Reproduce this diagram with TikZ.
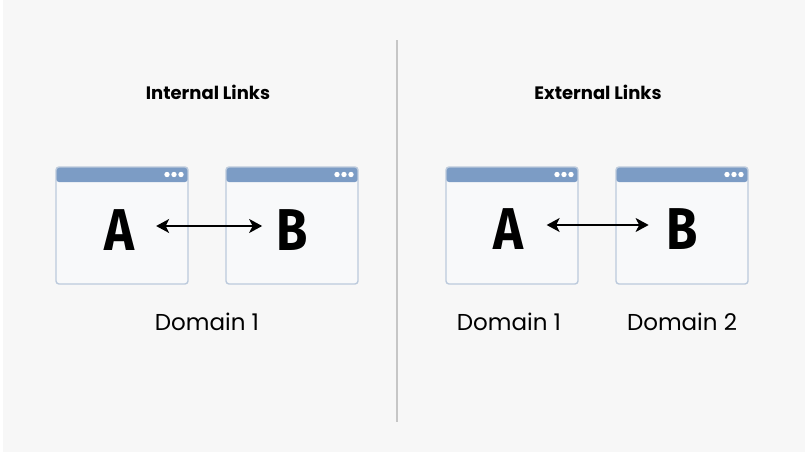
\documentclass[tikz,border=0pt]{standalone}
\usepackage{fontspec}
\setmainfont{Poppins}
\newfontfamily\letterfont[FakeStretch=0.86]{Fira Sans}
\usetikzlibrary{arrows.meta}

\definecolor{bg}{HTML}{F7F7F7}
\definecolor{bar}{HTML}{7C9CC5}
\definecolor{frame}{HTML}{BCCADC}
\definecolor{pane}{HTML}{F8F9FA}
\definecolor{divider}{HTML}{C6C6C6}

\tikzset{
  window/.style={draw=frame, line width=1.4pt, fill=pane, rounded corners=3pt,
    minimum width=132pt, minimum height=117pt, inner sep=0pt,
    path picture={
      \fill[bar] (path picture bounding box.north west) rectangle ([yshift=-15pt]path picture bounding box.north east);
      \foreach \dx in {7,14,21}
        \fill[white] ([xshift=-\dx pt, yshift=-7.5pt]path picture bounding box.north east) circle (2.7pt);
    }},
  letter/.style={font=\letterfont\bfseries\fontsize{59}{59}\selectfont, inner sep=0pt},
  title/.style={font=\bfseries\fontsize{18}{22}\selectfont},
  domainlabel/.style={font=\fontsize{23}{27}\selectfont},
  link/.style={{Stealth[length=13pt,width=14pt,inset=3.5pt]}-{Stealth[length=13pt,width=14pt,inset=3.5pt]},
    line width=1.6pt, black},
}

\begin{document}
\begin{tikzpicture}[x=1pt, y=-1pt]
  \useasboundingbox (0,0) rectangle (807,455);
  \fill[white] (0,0) rectangle (807,455);
  \fill[bg] (3,0) rectangle (805,452);

  % divider
  \coordinate (top) at (397,40);
  \coordinate (bot) at (397,422);
  \draw[divider, line width=1.2pt] (top) -- (bot);

  % internal links
  \node[title] (t1) at (208,92) {Internal Links};
  \node[window] (w1) at (122,225.5) {};
  \node[window] (w2) at (292,225.5) {};
  \node[letter] (a1) at (119,230) {A};
  \node[letter] (b1) at (292,230) {B};
  \node[domainlabel] (d1) at (207,322) {Domain 1};

  % external links
  \node[title] (t2) at (598,92) {External Links};
  \node[window] (w3) at (512,225.5) {};
  \node[window] (w4) at (682,225.5) {};
  \node[letter] (a2) at (508.5,229) {A};
  \node[letter] (b2) at (682.5,229) {B};
  \node[domainlabel] (d2) at (509,322) {Domain 1};
  \node[domainlabel] (d3) at (682,322) {Domain 2};

  \path[link]
  ([yshift=4pt]a1.east) edge[shorten <=22pt, shorten >=14pt] ([yshift=4pt]b1.west)
  ([yshift=4pt]a2.east) edge[shorten <=23pt, shorten >=18pt] ([yshift=4pt]b2.west)
  ;
\end{tikzpicture}
\end{document}
